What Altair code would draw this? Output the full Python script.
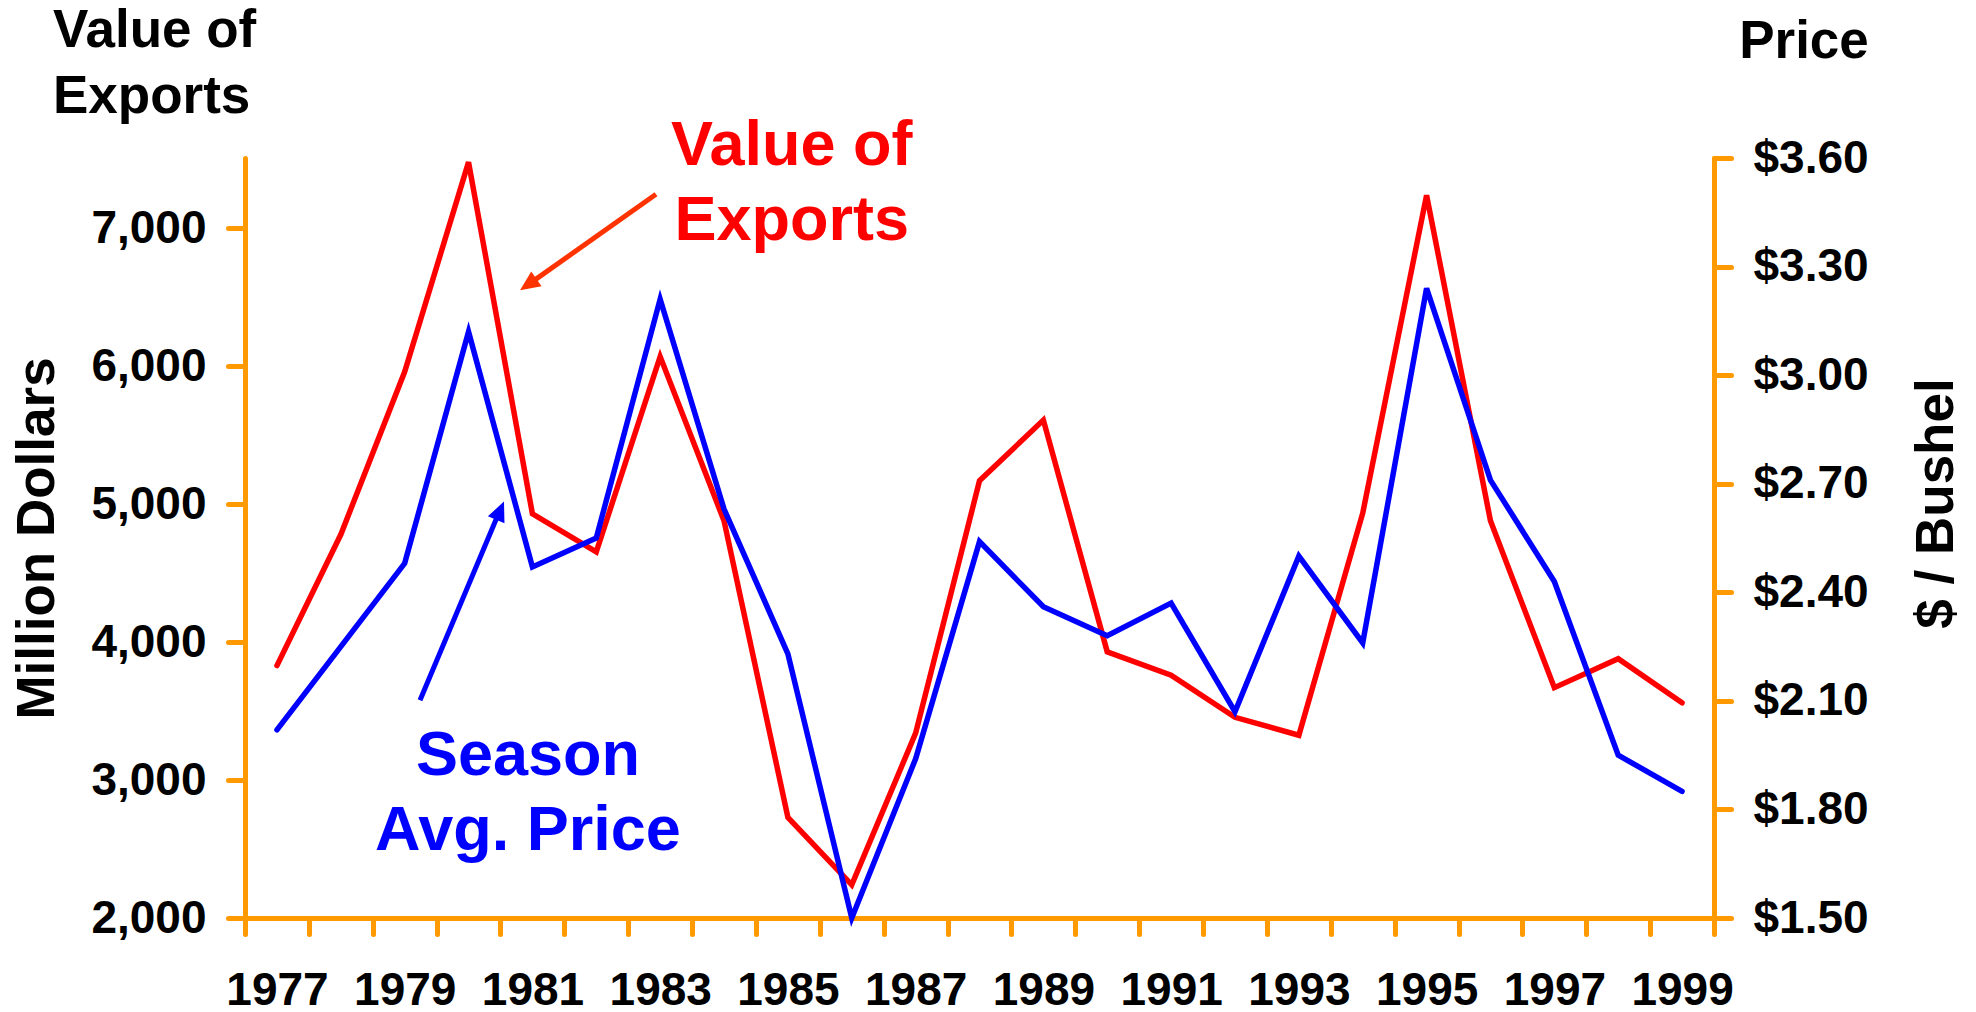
import altair as alt
import pandas as pd

# ---- data ----
years = list(range(1977, 2000))
exports = [3830, 4780, 5960, 7480, 4930, 4655, 6070, 4880, 2730, 2240, 3340, 5170,
           5610, 3930, 3760, 3455, 3325, 4935, 7240, 4880, 3670, 3880, 3560]
prices = [2.02, 2.25, 2.48, 3.12, 2.47, 2.55, 3.21, 2.63, 2.23, 1.50, 1.94, 2.54,
          2.36, 2.28, 2.37, 2.07, 2.50, 2.26, 3.24, 2.71, 2.43, 1.95, 1.85]

left_ticks = [2000, 3000, 4000, 5000, 6000, 7000]
right_ticks = [1.5, 1.8, 2.1, 2.4, 2.7, 3.0, 3.3, 3.6]
x_ticks = [1976.5 + i for i in range(24)]

df = pd.DataFrame({"year": years, "exports": exports, "price": prices})
one = pd.DataFrame({"k": [0]})

ORANGE = "#FF9900"
RED = "#FF0000"
BLUE = "#0000FF"
ARROW_RED = "#FF3300"
FONT = "Liberation Sans"
W, H = 1469, 760
LW = 5.5

x_scale = alt.Scale(domain=[1976.5, 1999.5], nice=False, zero=False)
yl_scale = alt.Scale(domain=[2000, 7510], nice=False, zero=False)
yr_scale = alt.Scale(domain=[1.5, 3.6], nice=False, zero=False)

common = dict(
    grid=False,
    domainColor=ORANGE, domainWidth=5, domainCap="round",
    tickColor=ORANGE, tickWidth=5, tickCap="round",
    labelFont=FONT, labelFontSize=46, labelFontWeight="bold", labelColor="black",
    titleFont=FONT, titleFontSize=53, titleFontWeight="bold", titleColor="black",
)

x_axis = alt.Axis(
    values=x_ticks,
    labelExpr="(datum.value - 1976.5) % 2 == 0 ? toString(datum.value + 0.5) : ''",
    labelOffset=32, labelFlush=False, labelOverlap=False,
    labelBaseline="alphabetic", labelPadding=70, tickSize=16, title=None,
    **common,
)

yl_axis = alt.Axis(
    orient="left", values=left_ticks, format=",d", tickSize=17, labelPadding=22,
    title="Million Dollars", titleX=-208, titleY=380, titleAngle=270,
    titleAlign="center", titleBaseline="middle",
    **common,
)

yr_axis = alt.Axis(
    orient="right", values=right_ticks, format="$.2f", tickSize=17, labelPadding=22,
    title="$ / Bushel", titleX=222, titleY=345, titleAngle=270,
    titleAlign="center", titleBaseline="middle",
    **common,
)

# ---- left-scale group (value of exports) ----
red_line = alt.Chart(df).mark_line(color=RED, strokeWidth=LW, strokeCap="round").encode(
    x=alt.X("year:Q", scale=x_scale, axis=x_axis),
    y=alt.Y("exports:Q", scale=yl_scale, axis=yl_axis),
)

red_text = alt.Chart(one).mark_text(
    text=["Value of", "Exports"], color=RED, font=FONT, fontSize=63, fontWeight="bold",
    align="center", baseline="alphabetic", lineHeight=75,
).encode(x=alt.X(datum=1985.06), y=alt.Y(datum=7457))

red_arrow = alt.Chart(one).mark_rule(color=ARROW_RED, strokeWidth=5).encode(
    x=alt.X(datum=1982.935), y=alt.Y(datum=7247),
    x2=alt.X2(datum=1980.934), y2=alt.Y2(datum=6592),
)

red_head = alt.Chart(one).mark_point(
    shape="M0,0L0.45,1L-0.45,1Z", size=1600, angle=235, filled=True,
    color=ARROW_RED, opacity=1, strokeWidth=0,
).encode(x=alt.X(datum=1980.806), y=alt.Y(datum=6551))

title_left = alt.Chart(one).mark_text(
    text=["Value of", "Exports"], color="black", font=FONT, fontSize=53, fontWeight="bold",
    align="left", baseline="alphabetic", lineHeight=66,
).encode(x=alt.value(-192), y=alt.value(-111))

title_right = alt.Chart(one).mark_text(
    text="Price", color="black", font=FONT, fontSize=53, fontWeight="bold",
    align="center", baseline="alphabetic",
).encode(x=alt.value(1559), y=alt.value(-100))

left_group = alt.layer(red_line, red_text, red_arrow, red_head, title_left, title_right)

# ---- right-scale group (season average price) ----
blue_line = alt.Chart(df).mark_line(color=BLUE, strokeWidth=LW, strokeCap="round").encode(
    x=alt.X("year:Q", scale=x_scale, axis=x_axis),
    y=alt.Y("price:Q", scale=yr_scale, axis=yr_axis),
)

blue_text = alt.Chart(one).mark_text(
    text=["Season", "Avg. Price"], color=BLUE, font=FONT, fontSize=63, fontWeight="bold",
    align="center", baseline="alphabetic", lineHeight=75,
).encode(x=alt.X(datum=1980.93), y=alt.Y(datum=1.894))

blue_arrow = alt.Chart(one).mark_rule(color=BLUE, strokeWidth=5).encode(
    x=alt.X(datum=1979.24), y=alt.Y(datum=2.1015),
    x2=alt.X2(datum=1980.49), y2=alt.Y2(datum=2.626),
)

blue_head = alt.Chart(one).mark_point(
    shape="M0,0L0.45,1L-0.45,1Z", size=1600, angle=23, filled=True,
    color=BLUE, opacity=1, strokeWidth=0,
).encode(x=alt.X(datum=1980.555), y=alt.Y(datum=2.651))

right_group = alt.layer(blue_line, blue_text, blue_arrow, blue_head)

chart = alt.layer(left_group, right_group).resolve_scale(y="independent").properties(
    width=W, height=H,
    autosize=alt.AutoSizeParams(type="none"),
    padding={"left": 237, "top": 150, "right": 250, "bottom": 100},
    background="white",
).configure_view(stroke=None)

chart.save("out.html", embed_options={"renderer": "svg", "actions": False})
